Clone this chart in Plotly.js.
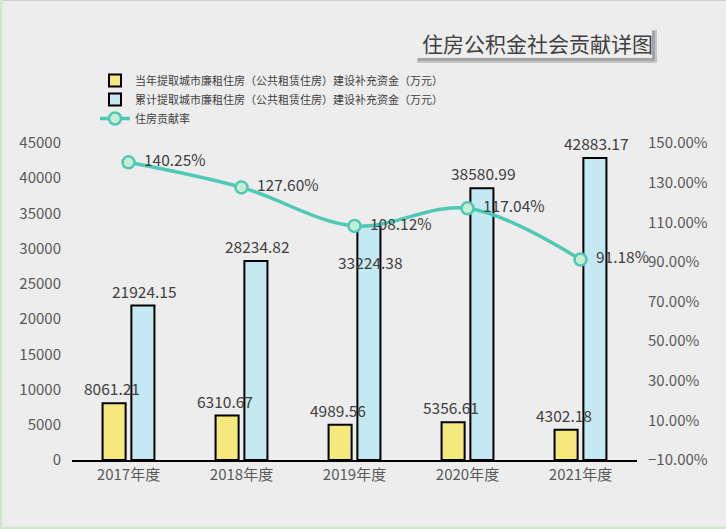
<!DOCTYPE html>
<html>
<head>
<meta charset="utf-8">
<script src="https://cdn.plot.ly/plotly-3.0.1.min.js"></script>
<style>
  html, body { margin: 0; padding: 0; background: #ededed; }
  #chart { width: 726px; height: 529px; }
</style>
</head>
<body>
<div id="chart"></div>
<script>
// data
var years = ['2017年度', '2018年度', '2019年度', '2020年度', '2021年度'];
var yearFund = [8061.21, 6310.67, 4989.56, 5356.61, 4302.18];        // 当年提取
var totalFund = [21924.15, 28234.82, 33224.38, 38580.99, 42883.17];  // 累计提取
var contribRate = [140.25, 127.60, 108.12, 117.04, 91.18];           // 住房贡献率 (%)

var nameYear = '当年提取城市廉租住房（公共租赁住房）建设补充资金（万元）';
var nameTotal = '累计提取城市廉租住房（公共租赁住房）建设补充资金（万元）';
var nameRate = '住房贡献率';

var FONT = '"Noto Sans CJK SC", "Noto Sans", sans-serif';

// plot area in pixels: x 72..637, y 143..460
var L = 72, R = 637, T = 143, B = 460;
function px(x) { return (x - L) / (R - L); }
function py(y) { return (B - y) / (B - T); }

var traces = [
  {
    type: 'bar', name: nameYear, x: years, y: yearFund,
    marker: {color: '#f5e87c', line: {color: '#000', width: 2}},
    hoverinfo: 'skip'
  },
  {
    type: 'bar', name: nameTotal, x: years, y: totalFund,
    marker: {color: '#c5e9f2', line: {color: '#000', width: 2}},
    hoverinfo: 'skip'
  },
  {
    type: 'scatter', mode: 'lines+markers+text', name: nameRate,
    x: years, y: contribRate, yaxis: 'y2',
    line: {color: '#4ec9b4', width: 3.5, shape: 'spline', smoothing: 1},
    marker: {size: 12, color: '#c9edd2', line: {color: '#4ec9b4', width: 2.5}},
    text: contribRate.map(function (v) { return '\u00a0\u00a0' + v.toFixed(2) + '%'; }),
    textposition: 'middle right',
    textfont: {family: FONT, size: 15.5, color: '#404040'},
    cliponaxis: false,
    hoverinfo: 'skip'
  }
];

// bar value labels (the 2019 cumulative label sits lower inside its bar in the reference)
var annotations = [];
function addBarLabels(vals, xshift) {
  vals.forEach(function (v, i) {
    var shift = 15;
    if (vals === totalFund && i === 2) shift = -36;
    annotations.push({
      x: years[i], y: v, xref: 'x', yref: 'y',
      text: v.toFixed(2), showarrow: false,
      xshift: xshift, yshift: shift, yanchor: 'middle',
      font: {family: FONT, size: 15.5, color: '#404040'}
    });
  });
}
addBarLabels(yearFund, -17);
addBarLabels(totalFund, 16);

// title in a shadowed box
annotations.push({
  xref: 'paper', yref: 'paper', x: px(420), y: py(43),
  xanchor: 'left', yanchor: 'middle', showarrow: false,
  text: '住房公积金社会贡献详图',
  font: {family: FONT, size: 21, color: '#404040'}
});

var shapes = [
  // title shadow + box
  {type: 'rect', xref: 'paper', yref: 'paper', x0: px(417), x1: px(657), y0: py(30), y1: py(63),
   fillcolor: '#c4c4c4', line: {width: 0}, layer: 'below'},
  {type: 'rect', xref: 'paper', yref: 'paper', x0: px(418), x1: px(655), y0: py(31), y1: py(61),
   fillcolor: '#a4a4a4', line: {width: 0}, layer: 'below'},
  {type: 'rect', xref: 'paper', yref: 'paper', x0: px(415), x1: px(652), y0: py(28), y1: py(58),
   fillcolor: '#ededed', line: {width: 0}, layer: 'below'},
  // page edges
  {type: 'line', xref: 'paper', yref: 'paper', x0: px(0), x1: px(726), y0: py(0.5), y1: py(0.5),
   line: {color: '#d0d0d0', width: 1}},
  {type: 'line', xref: 'paper', yref: 'paper', x0: px(1), x1: px(1), y0: py(0), y1: py(529),
   line: {color: '#d3e6cf', width: 2.5}},
  {type: 'line', xref: 'paper', yref: 'paper', x0: px(0), x1: px(726), y0: py(528), y1: py(528),
   line: {color: '#d3e6cf', width: 2.5}}
];

var layout = {
  width: 726, height: 529,
  margin: {l: L, r: 726 - R, t: T, b: 529 - B, pad: 0},
  paper_bgcolor: '#ededed', plot_bgcolor: '#ededed',
  font: {family: FONT, color: '#595959'},
  barmode: 'group', bargap: 0.49, bargroupgap: 0.2,
  showlegend: true,
  legend: {
    x: px(95), y: py(66), xanchor: 'left', yanchor: 'top',
    bgcolor: 'rgba(0,0,0,0)', tracegroupgap: 0,
    font: {family: FONT, size: 11, color: '#404040'},
    itemwidth: 30
  },
  xaxis: {
    type: 'category', showgrid: false, zeroline: false,
    showline: true, linecolor: '#000', linewidth: 2, ticks: '',
    tickfont: {family: FONT, size: 15, color: '#595959'}
  },
  yaxis: {
    range: [0, 45000], dtick: 5000, tickformat: 'd',
    showgrid: false, zeroline: false,
    showline: false, ticks: '', ticklabelstandoff: 10,
    tickfont: {family: FONT, size: 15, color: '#595959'}
  },
  yaxis2: {
    overlaying: 'y', side: 'right',
    range: [-10, 150], dtick: 20, tick0: -10,
    tickformat: '.2f', ticksuffix: '%',
    showgrid: false, zeroline: false, showline: false, ticks: '',
    ticklabelstandoff: 10,
    tickfont: {family: FONT, size: 15, color: '#595959'}
  },
  annotations: annotations,
  shapes: shapes
};

Plotly.newPlot('chart', traces, layout, {displayModeBar: false, staticPlot: true});
</script>
</body>
</html>
